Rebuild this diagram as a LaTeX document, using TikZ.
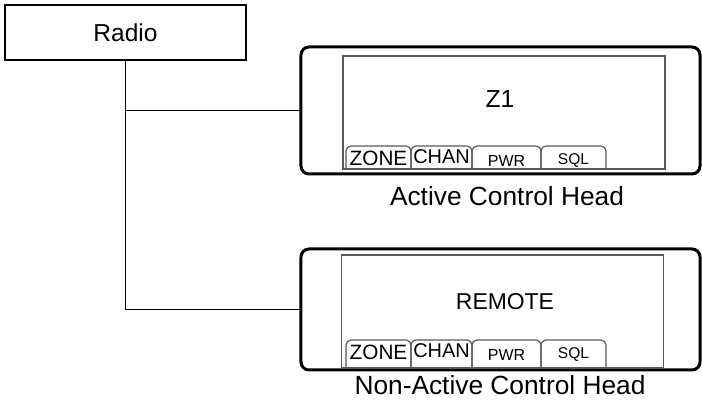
\documentclass[tikz,border=0pt]{standalone}
\usepackage{fontspec}
\setmainfont{Liberation Sans}
\usetikzlibrary{positioning}

\begin{document}
\begin{tikzpicture}[x=0.5bp, y=-0.5bp,
  radiobox/.style={rectangle, draw=black, line width=0.9bp, minimum width=120.5bp, minimum height=27.5bp, inner sep=0pt, outer sep=0pt, font=\fontsize{12.3}{14}\selectfont},
  headbox/.style={rectangle, rounded corners=4bp, draw=black, line width=1.5bp, minimum width=199.5bp, inner sep=0pt, outer sep=0pt},
  screen/.style={rectangle, draw=black!65, line width=0.6bp, minimum width=161bp, minimum height=56.5bp, inner sep=0pt},
  tabline/.style={draw=black!65, line width=0.6bp, rounded corners=2.5bp},
  caption/.style={font=\fontsize{13.2}{15}\selectfont, inner sep=0pt},
  wire/.style={line width=0.9bp}
]
\useasboundingbox (0,0) rectangle (702,405);

% Radio
\node[radiobox] (radio) at (125.5,32.5) {Radio};

% Control heads
\node[headbox, minimum height=63.5bp] (head1) at (500.5,110.5) {};
\node[headbox, minimum height=60.5bp] (head2) at (500.5,309.5) {};

% Screens
\node[screen] (screen1) at (504,112.5) {};
\node[screen] (screen2) at (502.5,311.5) {};
\node[font=\fontsize{12.4}{14}\selectfont] (z1) at (500,99) {Z1};
\node[font=\fontsize{11.5}{14}\selectfont] (remote) at (505,302) {REMOTE};

% Soft key tabs
\foreach \ty/\by in {146/169, 340/368} {
  \foreach \xa/\xb/\lbl/\fs/\dy in {346/411/ZONE/10.4/12, 411/472/CHAN/10/11, 472/541/PWR/8/15, 541/606/SQL/7.8/15} {
    \draw[tabline] (\xa,\by) -- (\xa,\ty) -- (\xb,\ty) -- (\xb,\by);
    \node[font=\fontsize{\fs}{12}\selectfont, inner sep=0pt] (tab-\lbl-\ty) at ({(\xa+\xb)/2},\ty+\dy) {\lbl};
  }
}

% Captions
\node[caption] (active) at (507,196) {Active Control Head};
\node[caption] (inactive) at (500,385) {Non-Active Control Head};

% Connections
\draw[wire] (radio.south) -- (radio.south |- head2.west) -- (head2.west);
\draw[wire] (radio.south |- head1.west) -- (head1.west);

\end{tikzpicture}
\end{document}
